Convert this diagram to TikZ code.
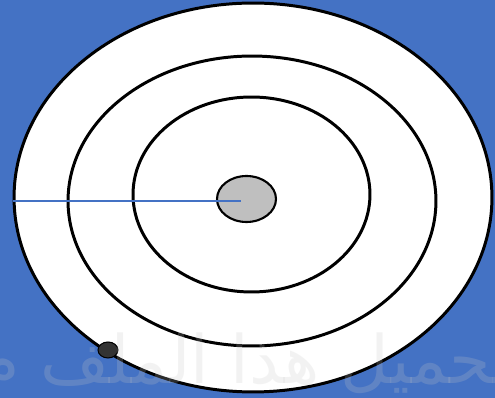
\documentclass[tikz,border=0pt]{standalone}
\usepackage{fontspec}
\newfontfamily\arabicfont[Script=Arabic]{DejaVu Sans}
\TeXXeTstate=1
\usetikzlibrary{shapes.geometric}

\definecolor{slideblue}{HTML}{4472C4}
\definecolor{coregray}{HTML}{BFBFBF}
\definecolor{blobgray}{HTML}{333333}
\definecolor{markgray}{RGB}{200,200,200}

\begin{document}
\begin{tikzpicture}[x=0.02cm, y=-0.02cm,
  ring/.style={ellipse, draw=black, line width=1.7pt, inner sep=0pt, fill=#1},
  ring/.default=white,
  radius line/.style={draw=slideblue, line width=0.9pt},
]

% background
\fill[slideblue] (0,0) rectangle (495,398);
\useasboundingbox (0,0) rectangle (495,398);
\clip (0,0) rectangle (495,398);

% Rings
\node[ring, minimum width=9.56cm, minimum height=7.78cm] (outer) at (253,197.5) {};
\node[ring, minimum width=7.36cm, minimum height=5.8cm] (middle) at (252,201) {};
\node[ring, minimum width=4.74cm, minimum height=3.9cm] (inner) at (251.5,194.5) {};
\node[ring=coregray, line width=1.2pt, minimum width=1.18cm, minimum height=0.92cm] (core) at (246.5,199) {};
\node[ring=blobgray, line width=0.6pt, minimum width=0.4cm, minimum height=0.32cm] (blob) at (108,350) {};

% Radius
\coordinate (edge) at (13,201);
\coordinate (mid) at (241,201);
\draw[radius line] (edge) -- (mid);

% Watermark
\node[anchor=base east, inner sep=0pt, text=markgray, opacity=0.22, font=\fontsize{38}{38}\arabicfont] (mark) at (512,384) {\beginR تحميل هذا الملف م\endR};

\end{tikzpicture}
\end{document}
